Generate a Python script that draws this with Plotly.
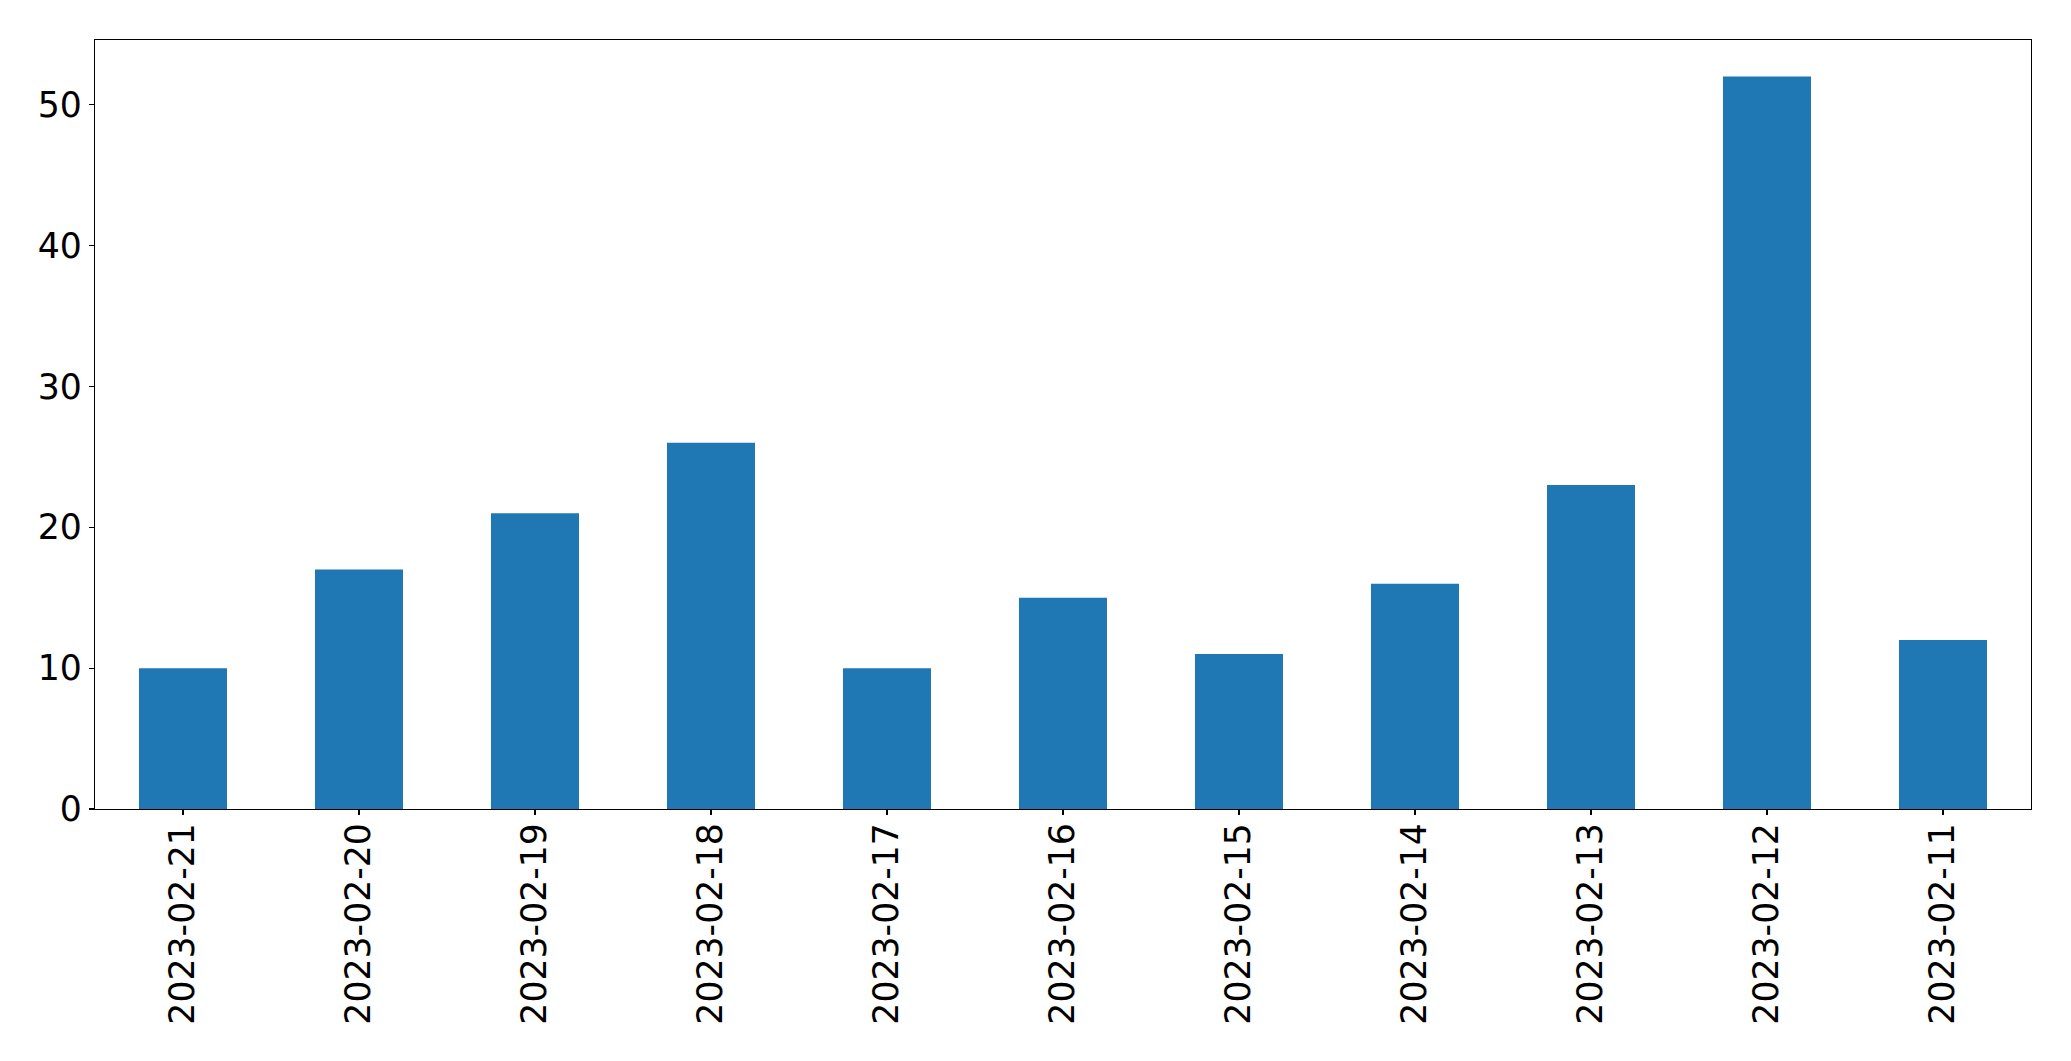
import plotly.graph_objects as go

dates = ["2023-02-21", "2023-02-20", "2023-02-19", "2023-02-18", "2023-02-17",
         "2023-02-16", "2023-02-15", "2023-02-14", "2023-02-13", "2023-02-12",
         "2023-02-11"]
counts = [10, 17, 21, 26, 10, 15, 11, 16, 23, 52, 12]

fig = go.Figure(go.Bar(x=dates, y=counts, width=0.5, marker_color="#1f77b4",
                       marker_line_width=0))

axis_common = dict(showgrid=False, zeroline=False, showline=True, linecolor="black",
                   linewidth=1.2, mirror=True, ticks="outside", ticklen=5,
                   tickwidth=1.2, tickcolor="black", automargin=False,
                   tickfont=dict(family="DejaVu Sans", size=34.7, color="black"))

fig.update_layout(
    width=2071, height=1061,
    margin=dict(l=95, r=40, t=40, b=252),
    paper_bgcolor="white", plot_bgcolor="white",
    showlegend=False,
    bargap=0.5,
    xaxis=dict(type="category", range=[-0.5, 10.5], tickangle=-90,
               ticklabelstandoff=-6, **axis_common),
    yaxis=dict(range=[0, 54.6], tickvals=[0, 10, 20, 30, 40, 50], **axis_common),
)

fig.write_html("out.html", config={"displayModeBar": False, "staticPlot": True},
               post_script="document.body.style.margin='0';document.body.style.overflow='hidden';")
